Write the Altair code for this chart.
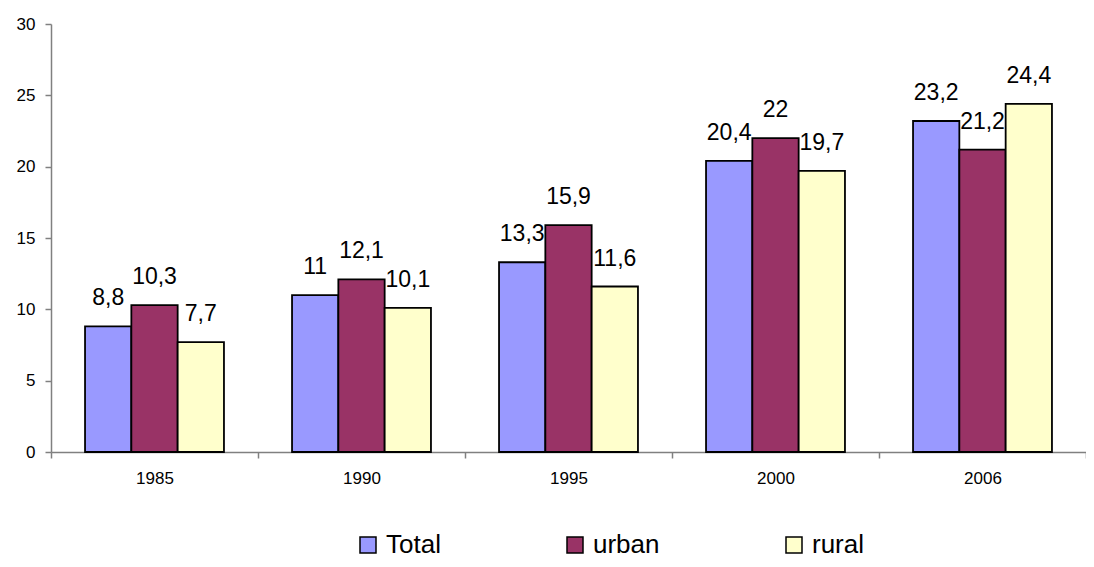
import altair as alt
import pandas as pd

years = ["1985", "1990", "1995", "2000", "2006"]
series = ["Total", "urban", "rural"]
total = [8.8, 11.0, 13.3, 20.4, 23.2]
urban = [10.3, 12.1, 15.9, 22.0, 21.2]
rural = [7.7, 10.1, 11.6, 19.7, 24.4]
colors = ["#9999FF", "#993366", "#FFFFCC"]


def fmt(v):
    s = ("%.1f" % v).rstrip("0").rstrip(".")
    return s.replace(".", ",")


rows = []
for name, vals in zip(series, [total, urban, rural]):
    for y, v in zip(years, vals):
        rows.append({"year": y, "series": name, "value": v, "label": fmt(v)})
df = pd.DataFrame(rows)

FONT = "Liberation Sans"

x_enc = alt.X(
    "year:N",
    sort=years,
    title=None,
    scale=alt.Scale(paddingInner=0, paddingOuter=0),
    axis=alt.Axis(
        labelAngle=0,
        tickBand="extent",
        tickSize=6,
        labelPadding=12,
        labelFontSize=17,
        labelFont=FONT,
        labelColor="black",
        domainColor="#808080",
        tickColor="#808080",
        domainWidth=1.5,
        tickWidth=1.5,
    ),
)
xoff = alt.XOffset(
    "series:N", sort=series, scale=alt.Scale(paddingInner=0, paddingOuter=0.735)
)
y_enc = alt.Y(
    "value:Q",
    title=None,
    scale=alt.Scale(domain=[0, 30], nice=False),
    axis=alt.Axis(
        values=[0, 5, 10, 15, 20, 25, 30],
        grid=False,
        tickSize=6,
        labelPadding=10,
        labelFontSize=17,
        labelFont=FONT,
        labelColor="black",
        domainColor="#808080",
        tickColor="#808080",
        domainWidth=1.5,
        tickWidth=1.5,
    ),
)

bars = alt.Chart(df).mark_bar(stroke="black", strokeWidth=1.8).encode(
    x=x_enc,
    xOffset=xoff,
    y=y_enc,
    color=alt.Color(
        "series:N",
        sort=series,
        scale=alt.Scale(domain=series, range=colors),
        title=None,
        legend=alt.Legend(
            orient="none",
            direction="horizontal",
            legendX=304,
            legendY=508,
            symbolType="square",
            symbolSize=256,
            symbolStrokeColor="black",
            symbolStrokeWidth=1.5,
            symbolOpacity=1,
            labelFontSize=26,
            labelFont=FONT,
            labelColor="black",
            labelOffset=5,
            columnPadding=121,
        ),
    ),
)

labels = alt.Chart(df).mark_text(
    font=FONT, fontSize=23, color="black", baseline="alphabetic", dy=-21
).encode(
    x=alt.X("year:N", sort=years),
    xOffset=xoff,
    y="value:Q",
    text="label:N",
)

chart = (
    alt.layer(bars, labels)
    .properties(
        width=1035,
        height=428,
        autosize=alt.AutoSizeParams(type="none"),
        padding={"left": 43, "top": 16, "right": 0, "bottom": 107},
    )
    .configure_view(stroke=None)
)

chart.save("out.html", embed_options={"renderer": "svg", "actions": False})
